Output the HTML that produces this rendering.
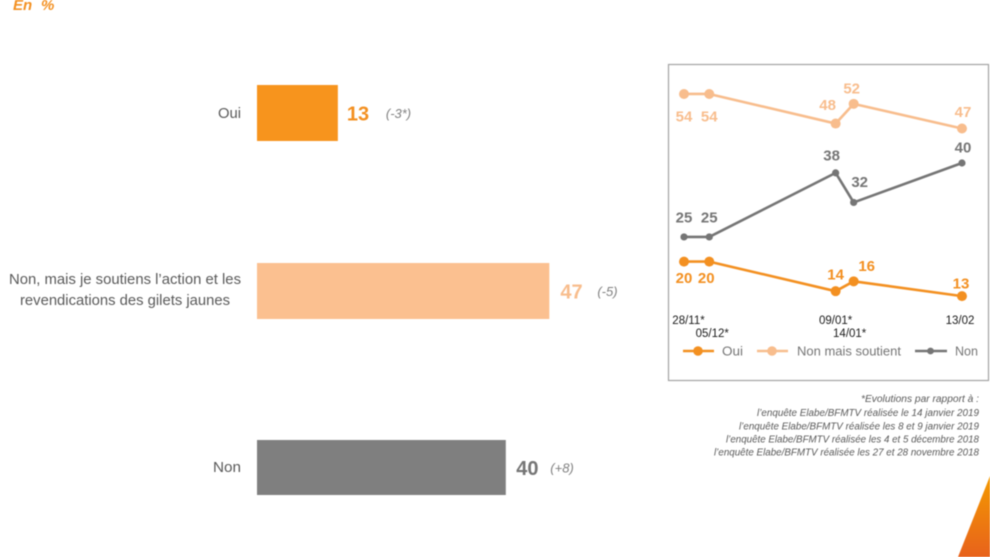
<!DOCTYPE html>
<html lang="fr">
<head>
<meta charset="utf-8">
<title>Sondage gilets jaunes</title>
<style>
html,body{margin:0;padding:0;background:#fff}
#page{position:relative;width:990px;height:557px;overflow:hidden;background:#fff}
svg{position:absolute;left:0;top:0;font-family:"Liberation Sans",sans-serif}
</style>
</head>
<body>
<div id="page">
<svg id="chart" width="990" height="557" viewBox="0 0 990 557" style="filter:blur(0.4px)">
  <defs>
    <linearGradient id="wedge-fill" x1="0" y1="0" x2="0" y2="1">
      <stop offset="0" stop-color="#f49a00"/>
      <stop offset="1" stop-color="#e8621c"/>
    </linearGradient>
  </defs>
  <g font-size="15" font-weight="bold" font-style="italic" fill="#f39021">
    <text x="13" y="10">En</text>
    <text x="41" y="10">%</text>
  </g>
  <polygon points="990,476 958,557 990,557" fill="url(#wedge-fill)"/>

  <g id="bars"></g>
  <text x="241" y="118" text-anchor="end" font-size="15" fill="#595959" textLength="23" lengthAdjust="spacingAndGlyphs">Oui</text>
  <text x="125" y="284" text-anchor="middle" font-size="15" fill="#595959" textLength="232" lengthAdjust="spacingAndGlyphs">Non, mais je soutiens l’action et les</text>
  <text x="125" y="305" text-anchor="middle" font-size="15" fill="#595959" textLength="210" lengthAdjust="spacingAndGlyphs">revendications des gilets jaunes</text>
  <text x="241" y="472" text-anchor="end" font-size="15" fill="#595959" textLength="28" lengthAdjust="spacingAndGlyphs">Non</text>

  <rect x="668.5" y="64.5" width="320" height="316" fill="#fff" stroke="#a3a3a3" stroke-width="1.2"/>
  <g id="trend"></g>

  <g font-size="13" fill="#757575">
    <g>
      <line x1="683" y1="351" x2="714" y2="351" stroke="#f39021" stroke-width="2.6"/>
      <circle cx="698" cy="351" r="4.8" fill="#f39021"/>
      <text x="722" y="355.5" textLength="21" lengthAdjust="spacingAndGlyphs">Oui</text>
    </g>
    <g>
      <line x1="757" y1="351" x2="788" y2="351" stroke="#f8bd8d" stroke-width="2.6"/>
      <circle cx="772" cy="351" r="4.8" fill="#f8bd8d"/>
      <text x="797" y="355.5" textLength="104" lengthAdjust="spacingAndGlyphs">Non mais soutient</text>
    </g>
    <g>
      <line x1="915" y1="351" x2="947" y2="351" stroke="#757575" stroke-width="2.6"/>
      <circle cx="930.5" cy="351" r="3.4" fill="#757575"/>
      <text x="955" y="355.5" textLength="23" lengthAdjust="spacingAndGlyphs">Non</text>
    </g>
  </g>

  <g font-size="10" font-style="italic" fill="#595959" text-anchor="end">
    <text x="979" y="402" textLength="118" lengthAdjust="spacingAndGlyphs">*Evolutions par rapport à :</text>
    <text x="979" y="416" textLength="222" lengthAdjust="spacingAndGlyphs">l’enquête Elabe/BFMTV réalisée le 14 janvier 2019</text>
    <text x="979" y="429.5" textLength="240" lengthAdjust="spacingAndGlyphs">l’enquête Elabe/BFMTV réalisée les 8 et 9 janvier 2019</text>
    <text x="979" y="442.5" textLength="253" lengthAdjust="spacingAndGlyphs">l’enquête Elabe/BFMTV réalisée les 4 et 5 décembre 2018</text>
    <text x="979" y="455.5" textLength="265" lengthAdjust="spacingAndGlyphs">l’enquête Elabe/BFMTV réalisée les 27 et 28 novembre 2018</text>
  </g>
</svg>
</div>
<script>
// Main bar chart data
const barNames = ['oui', 'soutien', 'non'];
const barValues = [13, 47, 40];
const barDeltas = ['(-3*)', '(-5)', '(+8)'];

// Trend chart data
const surveyDates = ['2018-11-28', '2018-12-05', '2019-01-09', '2019-01-14', '2019-02-13'];
const tickLabels = ['28/11*', '05/12*', '09/01*', '14/01*', '13/02'];
const ouiValues = [20, 20, 14, 16, 13];
const soutienValues = [54, 54, 48, 52, 47];
const nonValues = [25, 25, 38, 32, 40];

const NS = 'http://www.w3.org/2000/svg';
function make(parent, tag, attrs, text) {
  const el = document.createElementNS(NS, tag);
  for (const k in attrs) el.setAttribute(k, attrs[k]);
  if (text !== undefined) el.textContent = text;
  parent.appendChild(el);
  return el;
}

// Bar axis
const barLeft = 257;
const barX = v => barLeft + v * 6.22;
const barRows = [
  { top: 85, h: 56, fill: '#f7941d', valueFill: '#f39021', valueGap: 9, deltaGap: 48 },
  { top: 263, h: 56, fill: '#fbc090', valueFill: '#f8bd8d', valueGap: 11, deltaGap: 48 },
  { top: 440, h: 55, fill: '#7f7f7f', valueFill: '#757575', valueGap: 10.5, deltaGap: 44.5 }
];
const barsGroup = document.getElementById('bars');
barValues.forEach((v, i) => {
  const row = barRows[i];
  const rect = make(barsGroup, 'rect', { x: barLeft, y: row.top, width: barX(v) - barLeft, height: row.h, fill: row.fill });
  
  
  const mid = row.top + row.h / 2;
  const value = make(barsGroup, 'text', { x: barX(v) + row.valueGap, y: mid + 7.5, 'font-size': 20, 'font-weight': 'bold', fill: row.valueFill }, String(v));
  
  
  const delta = make(barsGroup, 'text', { x: barX(v) + row.deltaGap, y: mid + 5, 'font-size': 13, 'font-style': 'italic', fill: '#7f7f7f' }, barDeltas[i]);
  
  
});

// Trend axes: a true date axis
const dayMs = 86400000;
const firstDay = Date.parse(surveyDates[0]);
const trendX = d => 684 + ((Date.parse(d) - firstDay) / dayMs) * 3.61;
const trendY = v => 360.2 - v * 4.93;

const trendSeries = [
  { key: 'soutien', values: soutienValues, color: '#f8bd8d', r: 5,
    nudge: [[0, 22], [0, 22], [-8, -19], [-2, -16], [1, -17]] },
  { key: 'non', values: nonValues, color: '#757575', r: 3.6,
    nudge: [[0, -20], [0, -20], [-4, -18], [6, -21], [1, -16]] },
  { key: 'oui', values: ouiValues, color: '#f39021', r: 5,
    nudge: [[0, 16], [-3, 16], [0, -17], [13, -16], [-1, -13]] }
];
const trendGroup = document.getElementById('trend');
trendSeries.forEach(s => {
  const pts = s.values.map((v, i) => trendX(surveyDates[i]) + ',' + trendY(v)).join(' ');
  const line = make(trendGroup, 'polyline', { points: pts, fill: 'none', stroke: s.color, 'stroke-width': 2.6, 'stroke-linejoin': 'round' });
  
  
  s.values.forEach((v, i) => {
    const cx = trendX(surveyDates[i]);
    const cy = trendY(v);
    const dot = make(trendGroup, 'circle', { cx: cx, cy: cy, r: s.r, fill: s.color });
    
    
    const label = make(trendGroup, 'text', { x: cx + s.nudge[i][0], y: cy + s.nudge[i][1] + 5.5, 'text-anchor': 'middle', 'font-size': 15, 'font-weight': 'bold', fill: s.color }, String(v));
    
    
  });
});

// Date ticks alternate between two rows
const tickShift = [4.5, 3, 0, -4, -2];
tickLabels.forEach((t, i) => {
  const y = (i === 1 || i === 3) ? 337 : 324;
  const tick = make(trendGroup, 'text', { x: trendX(surveyDates[i]) + tickShift[i], y: y, 'text-anchor': 'middle', 'font-size': 11.5, fill: '#1a1a1a' }, t);
  
  
});
</script>
</body>
</html>
